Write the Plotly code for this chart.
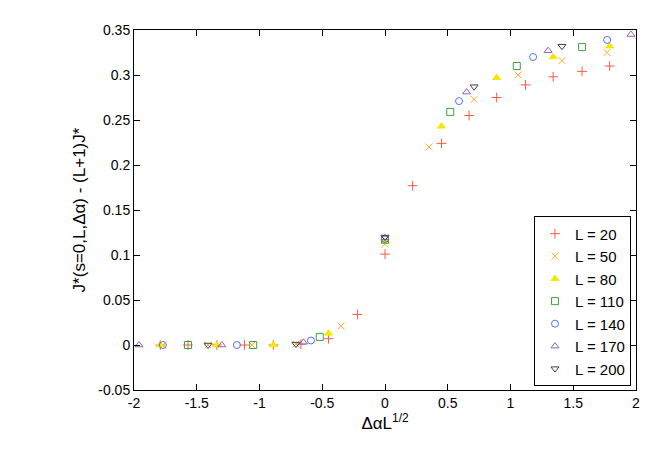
import plotly.graph_objects as go

# x = delta_alpha * L^(1/2), y = J*(s=0,L,da) - (L+1)J*
x_L20 = [-1.79, -1.57, -1.34, -1.12, -0.89, -0.67, -0.45, -0.22, 0, 0.22, 0.45, 0.67, 0.89, 1.12, 1.34, 1.57, 1.79]
y_L20 = [0, 0, 0, 0, 0, 0.001, 0.007, 0.034, 0.101, 0.177, 0.224, 0.255, 0.275, 0.289, 0.298, 0.304, 0.310]
x_L50 = [-1.77, -1.41, -1.06, -0.71, -0.35, 0, 0.35, 0.71, 1.06, 1.41, 1.77]
y_L50 = [0, 0, 0, 0.001, 0.021, 0.112, 0.220, 0.273, 0.300, 0.316, 0.325]
x_L80 = [-1.79, -1.34, -0.89, -0.45, 0, 0.45, 0.89, 1.34, 1.79]
y_L80 = [0, 0, 0, 0.013, 0.115, 0.243, 0.297, 0.320, 0.332]
x_L110 = [-1.57, -1.05, -0.52, 0, 0.52, 1.05, 1.57]
y_L110 = [0, 0, 0.009, 0.117, 0.259, 0.310, 0.331]
x_L140 = [-1.77, -1.18, -0.59, 0, 0.59, 1.18, 1.77]
y_L140 = [0, 0, 0.005, 0.118, 0.271, 0.320, 0.339]
x_L170 = [-1.96, -1.30, -0.65, 0, 0.65, 1.30, 1.96]
y_L170 = [0, 0, 0.003, 0.119, 0.281, 0.327, 0.345]
x_L200 = [-1.41, -0.71, 0, 0.71, 1.41]
y_L200 = [0, 0.001, 0.120, 0.287, 0.332]

x_ticks = [-2, -1.5, -1, -0.5, 0, 0.5, 1, 1.5, 2]
x_labels = ["-2", "-1.5", "-1", "-0.5", "0", "0.5", "1", "1.5", "2"]
y_ticks = [-0.05, 0, 0.05, 0.1, 0.15, 0.2, 0.25, 0.3, 0.35]
y_labels = ["-0.05", "0", "0.05", "0.1", "0.15", "0.2", "0.25", "0.3", "0.35"]

series = [
    ("L = 20", x_L20, y_L20, "cross-thin", "#ff5a40"),
    ("L = 50", x_L50, y_L50, "x-thin", "#ffae30"),
    ("L = 80", x_L80, y_L80, "triangle-up", "#f2e800"),
    ("L = 110", x_L110, y_L110, "square-open", "#40a040"),
    ("L = 140", x_L140, y_L140, "circle-open", "#5070ff"),
    ("L = 170", x_L170, y_L170, "triangle-up-open", "#9060c0"),
    ("L = 200", x_L200, y_L200, "triangle-down-open", "#404040"),
]

fig = go.Figure()
for name, xs, ys, sym, col in series:
    fig.add_trace(go.Scatter(
        x=xs, y=ys, mode="markers", name=name,
        marker=dict(symbol=sym, size=7, color=col, line=dict(color=col, width=1)),
    ))

axis = dict(showgrid=False, zeroline=False, showline=True, mirror="ticks",
            linecolor="black", ticks="inside", ticklen=6, tickcolor="black")
fig.update_xaxes(range=[-2, 2], tickvals=x_ticks, ticktext=x_labels,
                 title_text="ΔαL<sup>1/2</sup>", title_standoff=6, **axis)
fig.update_yaxes(range=[-0.05, 0.35], tickvals=y_ticks, ticktext=y_labels,
                 title_text="J*(s=0,L,Δα) - (L+1)J*", title_standoff=8, **axis)
fig.update_layout(
    width=654, height=458,
    margin=dict(l=126, r=26, t=22, b=76, autoexpand=False),
    plot_bgcolor="white", paper_bgcolor="white",
    font=dict(family="Liberation Sans, Arial", size=14, color="black"),
    legend=dict(x=0.99, y=0.01, xanchor="right", yanchor="bottom",
                bordercolor="black", borderwidth=1, bgcolor="white",
                font=dict(size=15), tracegroupgap=0, itemwidth=30),
)
fig.write_html("out.html")
